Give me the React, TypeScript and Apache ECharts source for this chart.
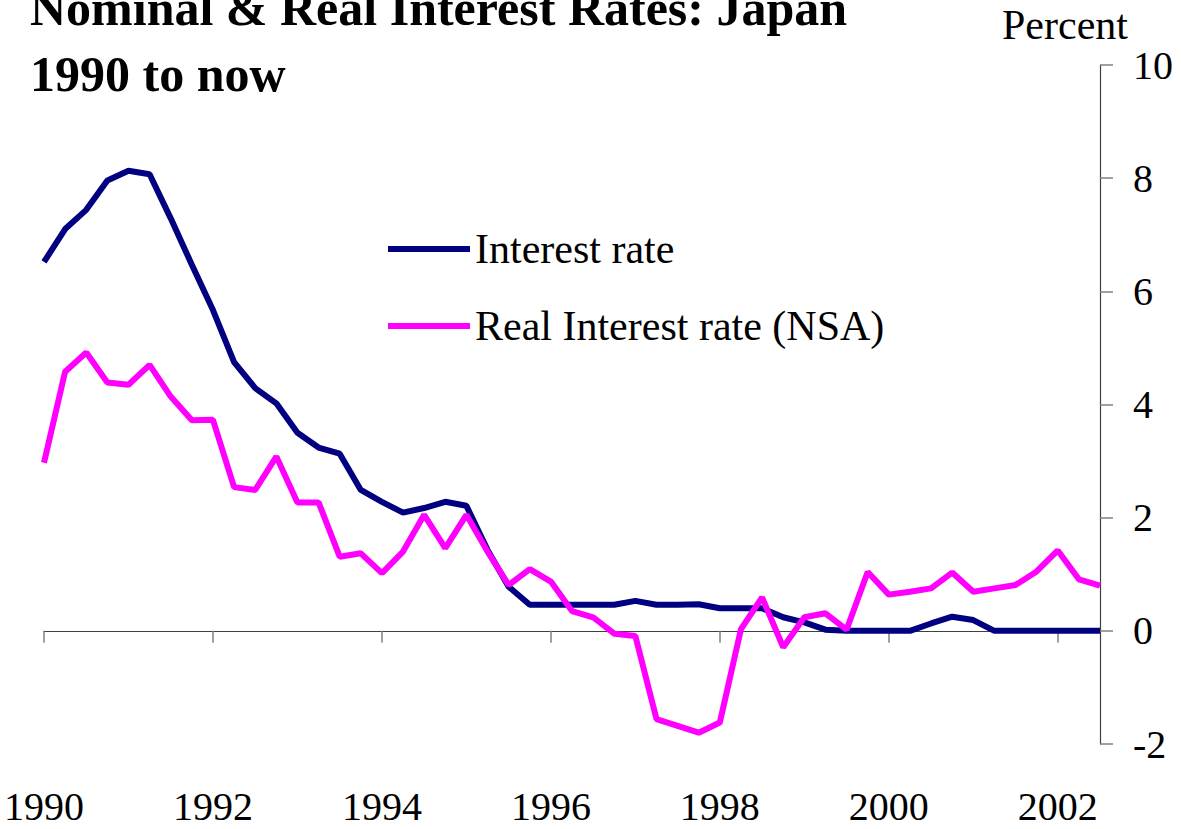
import React, { useEffect, useRef } from "react";
import * as echarts from "echarts";

// Quarterly categories 1990 Q1 .. 2002 Q3
const START_YEAR = 1990;
const N_QUARTERS = 51;
const quarters: string[] = [];
for (let i = 0; i < N_QUARTERS; i++) {
  quarters.push(`${START_YEAR + Math.floor(i / 4)} Q${(i % 4) + 1}`);
}

const interestRate: number[] = [
  6.52, 7.1, 7.44, 7.96, 8.13, 8.07, 7.29, 6.47, 5.67, 4.75,
  4.29, 4.02, 3.5, 3.24, 3.13, 2.49, 2.28, 2.09, 2.17, 2.28,
  2.21, 1.43, 0.78, 0.46, 0.46, 0.46, 0.46, 0.46, 0.53, 0.46,
  0.46, 0.47, 0.4, 0.4, 0.4, 0.24, 0.15, 0.02, 0, 0,
  0, 0, 0.13, 0.25, 0.19, 0, 0, 0, 0, 0,
  0,
];

const realInterestRate: number[] = [
  2.97, 4.58, 4.92, 4.39, 4.35, 4.7, 4.14, 3.72, 3.73, 2.54,
  2.49, 3.08, 2.27, 2.27, 1.31, 1.37, 1.02, 1.4, 2.05, 1.46,
  2.05, 1.4, 0.81, 1.09, 0.87, 0.35, 0.24, -0.05, -0.09, -1.56,
  -1.68, -1.8, -1.62, 0.03, 0.59, -0.29, 0.24, 0.31, 0.02, 1.04,
  0.64, 0.69, 0.75, 1.03, 0.69, 0.75, 0.81, 1.05, 1.42, 0.91,
  0.8,
];

const seriesNames = ["Interest rate", "Real Interest rate (NSA)"];
const titleLines = ["Nominal & Real Interest Rates: Japan", "1990 to now"];
const unitLabel = "Percent";

const SERIF = '"Liberation Serif", "Times New Roman", Times, serif';

export default function App() {
  const ref = useRef<HTMLDivElement>(null);

  useEffect(() => {
    if (!ref.current) return;
    const chart = echarts.init(ref.current, undefined, { renderer: "svg" });
    chart.setOption({
      animation: false,
      backgroundColor: "#ffffff",
      textStyle: { fontFamily: SERIF },
      grid: {
        left: 44,
        right: 81,
        top: 65,
        bottom: 85,
        containLabel: false,
        outerBoundsMode: "none",
      },
      legend: {
        orient: "vertical",
        left: 388,
        top: 228,
        padding: 0,
        icon: "rect",
        itemWidth: 82,
        itemHeight: 6,
        itemGap: 35,
        textStyle: { fontSize: 42, fontFamily: SERIF, color: "#000" },
        data: seriesNames,
      },
      graphic: [
        {
          type: "text",
          x: 30,
          y: 8,
          style: {
            text: titleLines[0],
            font: `bold 50px ${SERIF}`,
            fill: "#000",
            verticalAlign: "middle",
          },
        },
        {
          type: "text",
          x: 30,
          y: 74,
          style: {
            text: titleLines[1],
            font: `bold 50px ${SERIF}`,
            fill: "#000",
            verticalAlign: "middle",
          },
        },
        {
          type: "text",
          x: 1002,
          y: 25,
          style: {
            text: unitLabel,
            font: `42px ${SERIF}`,
            fill: "#000",
            verticalAlign: "middle",
          },
        },
      ],
      xAxis: {
        type: "category",
        data: quarters,
        boundaryGap: false,
        axisLine: { onZero: true, lineStyle: { color: "#404040", width: 1.2 } },
        axisTick: {
          show: true,
          length: 12,
          interval: (index: number) => index % 8 === 0,
          lineStyle: { color: "#808080", width: 1.5 },
        },
        axisLabel: {
          interval: (index: number) => index % 8 === 0,
          formatter: (v: string) => v.slice(0, 4),
          margin: 42,
          fontSize: 40,
          fontFamily: SERIF,
          color: "#000",
        },
        splitLine: { show: false },
      },
      yAxis: {
        type: "value",
        position: "right",
        min: -2,
        max: 10,
        interval: 2,
        axisLine: { show: true, onZero: false, lineStyle: { color: "#404040", width: 1.2 } },
        axisTick: { show: true, length: 13, lineStyle: { color: "#808080", width: 1.5 } },
        axisLabel: {
          margin: 33,
          fontSize: 40,
          fontFamily: SERIF,
          color: "#000",
        },
        splitLine: { show: false },
      },
      series: [
        {
          name: seriesNames[0],
          type: "line",
          data: interestRate,
          symbol: "none",
          color: "#000080",
          lineStyle: { color: "#000080", width: 6 },
        },
        {
          name: seriesNames[1],
          type: "line",
          data: realInterestRate,
          symbol: "none",
          color: "#FF00FF",
          lineStyle: { color: "#FF00FF", width: 6 },
        },
      ],
    });
    return () => chart.dispose();
  }, []);

  return (
    <div
      ref={ref}
      style={{ position: "fixed", left: 0, top: 0, width: 1181, height: 829, background: "#fff" }}
    />
  );
}
